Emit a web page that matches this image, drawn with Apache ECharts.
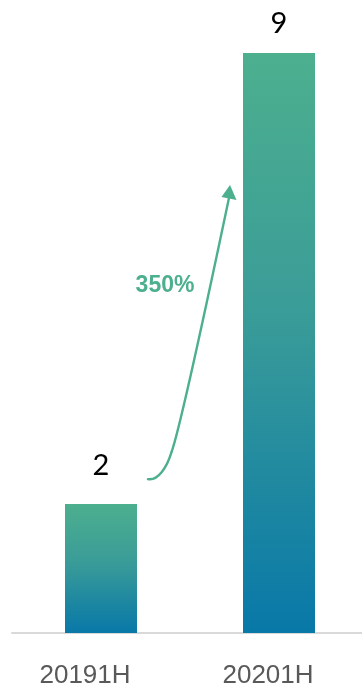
<!DOCTYPE html>
<html>
<head>
<meta charset="utf-8">
<style>
  html, body { margin: 0; padding: 0; background: #fff; }
  #chart { width: 362px; height: 688px; }
</style>
<script src="https://cdn.jsdelivr.net/npm/echarts@6/dist/echarts.min.js"></script>
</head>
<body>
<div id="chart"></div>
<script>
// Half-year totals
const categories = ['20191H', '20201H'];
const values = [2, 9];
const growthLabel = '350%';

const chart = echarts.init(document.getElementById('chart'), null, { renderer: 'canvas' });

const barGradient = new echarts.graphic.LinearGradient(0, 0, 0, 1, [
  { offset: 0, color: '#4CAF8E' },
  { offset: 0.45, color: '#3A9C98' },
  { offset: 1, color: '#0878A8' }
]);

const labelPads = [[0, 32, 0, 0], [0, 22, 0, 0]];
const labelDistances = [24, 15];

chart.setOption({
  animation: false,
  grid: { left: 12, width: 356, top: 53, bottom: 55, outerBoundsMode: 'none', containLabel: false },
  xAxis: {
    type: 'category',
    data: categories.map((c, i) => ({ value: c, textStyle: { padding: labelPads[i] } })),
    axisLine: { lineStyle: { color: '#D9D9D9', width: 2 } },
    axisTick: { show: false },
    axisLabel: {
      color: '#595959',
      fontSize: 26,
      fontFamily: 'Liberation Sans, Arial, sans-serif',
      margin: 30
    }
  },
  yAxis: {
    type: 'value',
    min: 0,
    max: 9,
    show: false,
    splitLine: { show: false }
  },
  series: [{
    type: 'bar',
    barWidth: 72,
    data: values.map((v, i) => ({
      value: v,
      label: { distance: labelDistances[i] }
    })),
    itemStyle: { color: barGradient },
    label: {
      show: true,
      position: 'top',
      color: '#000',
      fontSize: 29,
      fontFamily: 'Lato, Carlito, sans-serif'
    }
  }]
});

// Growth arrow from the first bar towards the second, anchored to data positions
const p0 = chart.convertToPixel({ seriesIndex: 0 }, [0, values[0]]);
const p1 = chart.convertToPixel({ seriesIndex: 0 }, [1, 7]);
const s = [p0[0] + 47, p0[1] - 25];   // tail (small hook)
const tip = [p1[0] - 49, p1[1] + 3];  // arrow point
const green = '#4CAF8E';
const bend = [s[0] + 23.5, s[1] - 27];
const lineEnd = [tip[0] - 1, tip[1] + 13];

chart.setOption({
  graphic: [
    {
      type: 'bezierCurve',
      shape: {
        x1: s[0], y1: s[1],
        cpx1: s[0] + 10, cpy1: s[1] + 2,
        cpx2: s[0] + 19, cpy2: s[1] - 12,
        x2: bend[0], y2: bend[1]
      },
      style: { stroke: green, lineWidth: 2.4, fill: null, lineCap: 'round' }
    },
    {
      type: 'bezierCurve',
      shape: {
        x1: bend[0], y1: bend[1],
        cpx1: bend[0] + 9.3, cpy1: bend[1] - 25,
        cpx2: lineEnd[0] - 12, cpy2: lineEnd[1] + 57,
        x2: lineEnd[0], y2: lineEnd[1]
      },
      style: { stroke: green, lineWidth: 2.4, fill: null }
    },
    {
      type: 'polygon',
      shape: {
        points: [
          [tip[0], tip[1]],
          [tip[0] - 8.5, tip[1] + 12],
          [tip[0] + 6.5, tip[1] + 15]
        ]
      },
      style: { fill: green }
    },
    {
      type: 'text',
      style: {
        text: growthLabel,
        x: 165,
        y: 286,
        align: 'center',
        verticalAlign: 'middle',
        fill: green,
        font: 'bold 23px "Liberation Sans", Arial, sans-serif'
      }
    }
  ]
});
</script>
</body>
</html>
